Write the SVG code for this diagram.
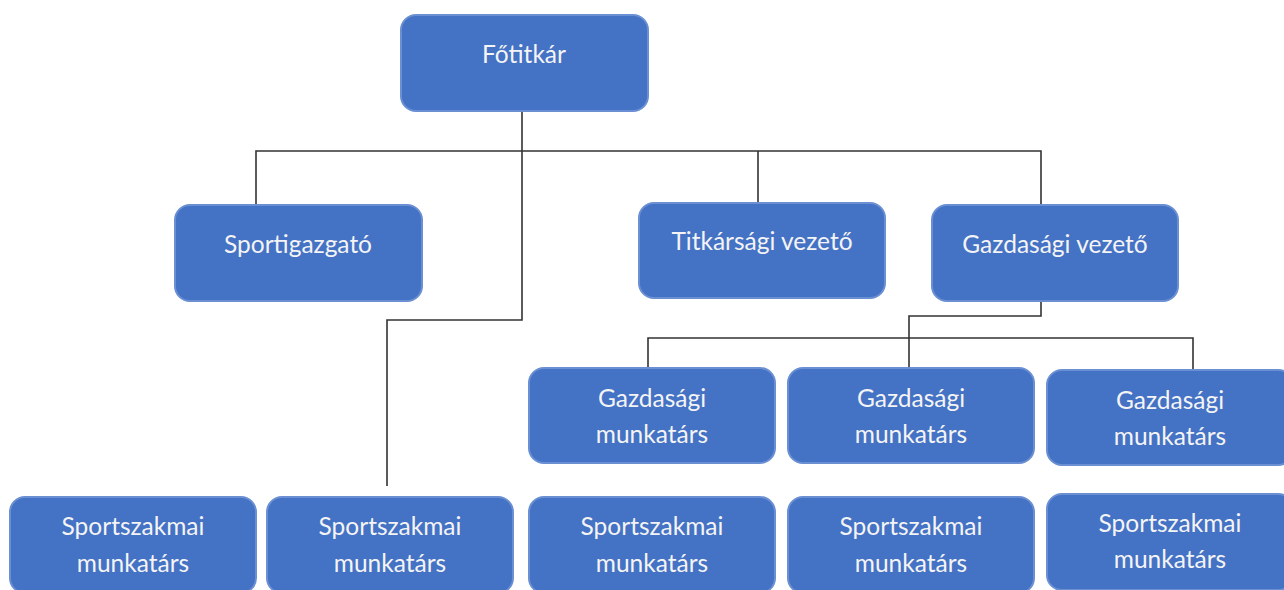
<svg xmlns="http://www.w3.org/2000/svg" width="1284" height="590" viewBox="0 0 1284 590">
<style>
.box{fill:#4472C4;stroke:#6a8fd3;stroke-width:2}
.t{font-family:Lato,"Open Sans","Liberation Sans",sans-serif;font-size:24.5px;fill:#f4f4f4;text-anchor:middle}
.c{fill:none;stroke:#333333;stroke-width:1.6}
</style>
<rect width="1284" height="590" fill="#ffffff"/>
<g id="connectors">
<polyline class="c" points="256,205 256,151 1041,151 1041,205"/>
<line class="c" x1="758" y1="151" x2="758" y2="203"/>
<polyline class="c" points="522,111 522,320 387,320 387,486"/>
<polyline class="c" points="1041,301 1041,316 909,316 909,368"/>
<polyline class="c" points="648,368 648,338 1193,338 1193,370"/>
</g>
<g id="fotitkar"><rect class="box" x="401" y="15" width="247" height="96" rx="15"/><text class="t" x="524" y="63">Főtitkár</text></g>
<g id="sportigazgato"><rect class="box" x="175" y="205" width="247" height="96" rx="15"/><text class="t" x="298" y="253">Sportigazgató</text></g>
<g id="titkarsagi"><rect class="box" x="639" y="203" width="246" height="95" rx="15"/><text class="t" x="762" y="250">Titkársági vezető</text></g>
<g id="gazdasagi-vezeto"><rect class="box" x="932" y="205" width="246" height="96" rx="15"/><text class="t" x="1055" y="253">Gazdasági vezető</text></g>
<g id="gm1"><rect class="box" x="529" y="368" width="246" height="95" rx="15"/><text class="t" x="652" y="407">Gazdasági</text><text class="t" x="652" y="443">munkatárs</text></g>
<g id="gm2"><rect class="box" x="788" y="368" width="246" height="95" rx="15"/><text class="t" x="911" y="407">Gazdasági</text><text class="t" x="911" y="443">munkatárs</text></g>
<g id="gm3"><rect class="box" x="1047" y="370" width="246" height="95" rx="15"/><text class="t" x="1170" y="409">Gazdasági</text><text class="t" x="1170" y="445">munkatárs</text></g>
<g id="sm1"><rect class="box" x="10" y="497" width="246" height="96" rx="15"/><text class="t" x="133" y="535">Sportszakmai</text><text class="t" x="133" y="572">munkatárs</text></g>
<g id="sm2"><rect class="box" x="267" y="497" width="246" height="96" rx="15"/><text class="t" x="390" y="535">Sportszakmai</text><text class="t" x="390" y="572">munkatárs</text></g>
<g id="sm3"><rect class="box" x="529" y="497" width="246" height="96" rx="15"/><text class="t" x="652" y="535">Sportszakmai</text><text class="t" x="652" y="572">munkatárs</text></g>
<g id="sm4"><rect class="box" x="788" y="497" width="246" height="96" rx="15"/><text class="t" x="911" y="535">Sportszakmai</text><text class="t" x="911" y="572">munkatárs</text></g>
<g id="sm5"><rect class="box" x="1047" y="494" width="246" height="96" rx="15"/><text class="t" x="1170" y="532">Sportszakmai</text><text class="t" x="1170" y="568">munkatárs</text></g>
</svg>
